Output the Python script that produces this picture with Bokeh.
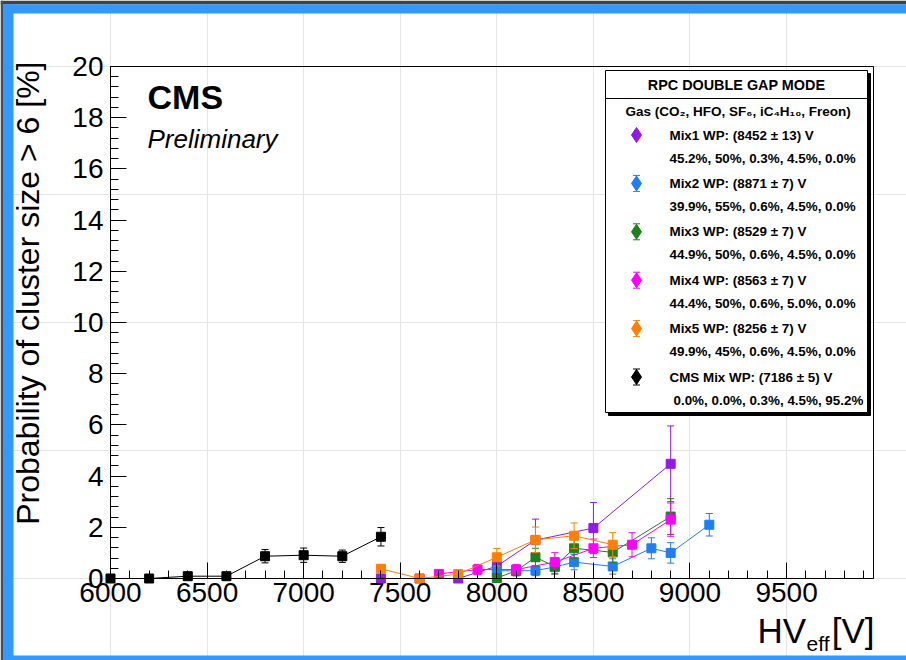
import numpy as np
from bokeh.plotting import figure
from bokeh.models import (Range1d, Label, BoxAnnotation, SingleIntervalTicker,
                          ColumnDataSource, LinearAxis)
from bokeh.embed import file_html
from bokeh.resources import INLINE

# ---------------- data ----------------
series_names = ["Mix1", "Mix2", "Mix3", "Mix4", "Mix5", "CMS Mix"]
series_colors = ["#9519e6", "#1f7ff0", "#1f801f", "#ff00ff", "#ff8000", "#000000"]

mix1_hv = [7400, 7600, 7800, 8000, 8200, 8500, 8900]
mix1_val = [0.0, 0.0, 0.0, 0.48, 1.50, 1.97, 4.48]
mix1_err = [0.02, 0.02, 0.02, 0.25, 0.82, 1.00, 1.48]

mix2_hv = [8000, 8100, 8200, 8300, 8400, 8600, 8800, 8900, 9100]
mix2_val = [0.30, 0.30, 0.31, 0.45, 0.64, 0.47, 1.18, 1.00, 2.10]
mix2_err = [0.15, 0.15, 0.20, 0.25, 0.30, 0.30, 0.41, 0.40, 0.44]

mix3_hv = [8000, 8100, 8200, 8300, 8400, 8600, 8900]
mix3_val = [0.02, 0.30, 0.83, 0.47, 1.18, 1.02, 2.42]
mix3_err = [0.05, 0.20, 0.35, 0.30, 0.40, 0.40, 0.70]

mix4_hv = [7700, 7900, 8100, 8300, 8500, 8700, 8900]
mix4_val = [0.18, 0.35, 0.35, 0.64, 1.18, 1.32, 2.30]
mix4_err = [0.10, 0.20, 0.20, 0.37, 0.36, 0.47, 0.65]

mix5_hv = [7400, 7600, 7800, 8000, 8200, 8400, 8600]
mix5_val = [0.38, 0.0, 0.17, 0.83, 1.51, 1.67, 1.32]
mix5_err = [0.15, 0.02, 0.10, 0.34, 0.50, 0.50, 0.47]

cms_hv = [6000, 6200, 6400, 6600, 6800, 7000, 7200, 7400]
cms_val = [0.0, 0.0, 0.09, 0.09, 0.87, 0.91, 0.87, 1.63]
cms_err = [0.02, 0.02, 0.05, 0.05, 0.26, 0.28, 0.24, 0.36]

legend_wp = ["Mix1 WP: (8452 \u00b1 13) V", "Mix2 WP: (8871 \u00b1  7) V",
             "Mix3 WP: (8529 \u00b1  7) V", "Mix4 WP: (8563 \u00b1  7) V",
             "Mix5 WP: (8256 \u00b1  7) V", "CMS Mix WP: (7186 \u00b1  5) V"]
legend_gas = ["45.2%, 50%, 0.3%, 4.5%,  0.0%", "39.9%, 55%, 0.6%, 4.5%,  0.0%",
              "44.9%, 50%, 0.6%, 4.5%,  0.0%", "44.4%, 50%, 0.6%, 5.0%,  0.0%",
              "49.9%, 45%, 0.6%, 4.5%,  0.0%", "0.0%, 0.0%, 0.3%, 4.5%, 95.2%"]

series = [(mix1_hv, mix1_val, mix1_err), (mix2_hv, mix2_val, mix2_err),
          (mix3_hv, mix3_val, mix3_err), (mix4_hv, mix4_val, mix4_err),
          (mix5_hv, mix5_val, mix5_err), (cms_hv, cms_val, cms_err)]

# ---------------- layout ----------------
W, H = 906, 660
AX_L, AX_R, AX_T, AX_B = 110, 873, 66, 578    # axis box in page px
X0, X1, Y0, Y1 = 6000, 9950, 0, 20            # axis box in data units
FONT = "Liberation Sans"

sx = (AX_R - AX_L) / (X1 - X0)
sy = (AX_B - AX_T) / (Y1 - Y0)

def dx(px):  # page px -> data x
    return X0 + (px - AX_L) / sx

def dy(py):  # page px -> data y
    return Y0 + (AX_B - py) / sy

p = figure(width=W, height=H, x_range=Range1d(dx(0), dx(W)), y_range=Range1d(dy(H), dy(0)),
           output_backend="svg", toolbar_location=None, min_border=0,
           x_axis_location=None, y_axis_location=None)
p.title.visible = False
p.background_fill_color = "white"
p.border_fill_color = "white"
p.outline_line_color = None

xax = LinearAxis(fixed_location=Y0, bounds=(X0, X1),
                 ticker=SingleIntervalTicker(interval=500, num_minor_ticks=5))
yax = LinearAxis(fixed_location=X0, bounds=(Y0, Y1),
                 ticker=SingleIntervalTicker(interval=2, num_minor_ticks=5))
for ax in (xax, yax):
    ax.axis_line_color = "black"
    ax.major_tick_line_color = "black"
    ax.minor_tick_line_color = "black"
    ax.major_tick_in = 16
    ax.major_tick_out = 0
    ax.minor_tick_in = 8
    ax.minor_tick_out = 0
    ax.major_label_text_font = FONT
    ax.major_label_text_font_size = "28px"
    ax.major_label_text_color = "black"
xax.major_label_standoff = 4
yax.major_label_standoff = 7
p.add_layout(xax, "below")
p.add_layout(yax, "left")

# frame box (top and right edges)
p.quad(left=[X0], right=[X1], bottom=[Y0], top=[Y1], fill_alpha=0, line_color="black", line_width=1)

# ---------------- data marks ----------------
for (hv, val, err), col in zip(series, series_colors):
    hv = np.array(hv, float); val = np.array(val, float); err = np.array(err, float)
    src = ColumnDataSource(dict(x=hv, y=val, lo=val - err, hi=val + err))
    p.line("x", "y", source=src, line_color=col, line_width=1)
    p.segment(x0="x", y0="lo", x1="x", y1="hi", source=src, line_color=col, line_width=1)
    p.scatter("x", "lo", source=src, marker="dash", size=7, line_color=col, line_width=1)
    p.scatter("x", "hi", source=src, marker="dash", size=7, line_color=col, line_width=1)
    p.scatter("x", "y", source=src, marker="square", size=9, fill_color=col, line_color=col)

# ---------------- legend box ----------------
p.quad(left=[dx(608)], right=[dx(870)], top=[dy(73)], bottom=[dy(415)],
       fill_color="black", line_color="black")
p.quad(left=[dx(605)], right=[dx(867)], top=[dy(70)], bottom=[dy(412)],
       fill_color="white", line_color="black", line_width=1)
p.segment(x0=[dx(605)], y0=[dy(98)], x1=[dx(867)], y1=[dy(98)], line_color="black")

def lab(x, y, text, size, style="bold", align="left", angle=0):
    p.add_layout(Label(x=dx(x), y=dy(y), text=text, text_font=FONT, text_font_style=style,
                       text_font_size=size, text_align=align, text_baseline="middle",
                       text_color="black", angle=angle))

lab(736, 84.5, "RPC DOUBLE GAP MODE", "14.4px", align="center")
lab(625, 111, "Gas  (CO\u2082, HFO, SF\u2086, iC\u2084H\u2081\u2080, Freon)", "13.5px")

row0, step = 134.5, 48.4
for i, (name, col) in enumerate(zip(series_names, series_colors)):
    ry = row0 + i * step
    lab(669, ry, legend_wp[i], "13.4px")
    lab(669 if i < 5 else 673, ry + 23, legend_gas[i], "13.4px")
    if i > 0:
        p.segment(x0=[dx(636)], y0=[dy(ry - 8)], x1=[dx(636)], y1=[dy(ry + 8)], line_color=col)
        p.scatter([dx(636)], [dy(ry - 8)], marker="dash", size=7, line_color=col)
        p.scatter([dx(636)], [dy(ry + 8)], marker="dash", size=7, line_color=col)
    p.scatter([dx(636)], [dy(ry)], marker="diamond", size=15, fill_color=col, line_color=col)

# ---------------- texts (y = visual centre of capitals) ----------------
lab(147, 96, "CMS", "34px")
lab(147, 138, "Preliminary", "26px", style="italic")
lab(27, 61, "Probability of cluster size > 6 [%]", "32px", style="normal",
    align="right", angle=np.pi / 2)
lab(757, 629.5, "HV", "35px", style="normal")
lab(806, 642.5, "eff", "21px", style="normal")
lab(874, 629.5, "[V]", "35px", style="normal", align="right")

# ---------------- window frame stripes ----------------
def band(l, r, t, b, col):
    p.add_layout(BoxAnnotation(left=dx(l), right=dx(r), top=dy(t), bottom=dy(b),
                               fill_color=col, fill_alpha=1, line_alpha=0, level="overlay"))

band(0, W, 0, 4, "#3d434c")
band(0, 2.5, 0, H, "#4a4f57")
band(2.5, W, 4, 13, "#3399ff")
band(2.5, 13, 4, H, "#3399ff")
band(2.5, W, 655, H, "#3399ff")

open("out.html", "w").write(file_html(p, INLINE))
